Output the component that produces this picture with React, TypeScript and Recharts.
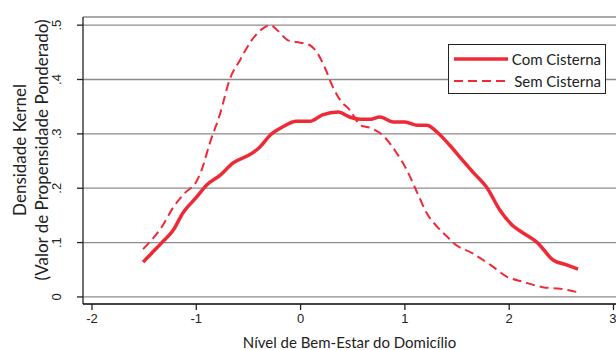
import React from 'react';
import { LineChart, Line, XAxis, YAxis, CartesianGrid, Label } from 'recharts';

// kernel density, weighted by propensity score
const comX = [-1.51, -1.43, -1.33, -1.22, -1.13, -1.0, -0.9, -0.77, -0.65, -0.46, -0.39, -0.29, -0.17, -0.04, 0.09, 0.21, 0.36, 0.47, 0.57, 0.67, 0.76, 0.89, 1.0, 1.12, 1.21, 1.31, 1.43, 1.55, 1.65, 1.79, 1.91, 2.03, 2.13, 2.27, 2.42, 2.55, 2.66];
const comY = [0.064, 0.08, 0.1, 0.123, 0.154, 0.183, 0.206, 0.224, 0.246, 0.265, 0.276, 0.298, 0.313, 0.323, 0.323, 0.335, 0.34, 0.331, 0.327, 0.327, 0.331, 0.322, 0.322, 0.316, 0.316, 0.303, 0.279, 0.252, 0.23, 0.2, 0.16, 0.132, 0.118, 0.1, 0.068, 0.059, 0.051];

const semX = [-1.51, -1.33, -1.22, -1.11, -1.0, -0.95, -0.87, -0.77, -0.68, -0.58, -0.47, -0.36, -0.29, -0.22, -0.12, -0.04, 0.09, 0.16, 0.23, 0.31, 0.38, 0.47, 0.52, 0.57, 0.67, 0.79, 0.92, 1.02, 1.12, 1.21, 1.31, 1.41, 1.46, 1.65, 1.82, 1.98, 2.13, 2.32, 2.49, 2.65];
const semY = [0.088, 0.129, 0.165, 0.191, 0.212, 0.233, 0.283, 0.338, 0.4, 0.436, 0.472, 0.494, 0.5, 0.49, 0.472, 0.469, 0.463, 0.449, 0.423, 0.386, 0.362, 0.344, 0.33, 0.316, 0.311, 0.297, 0.265, 0.233, 0.191, 0.154, 0.129, 0.11, 0.1, 0.08, 0.059, 0.037, 0.028, 0.018, 0.015, 0.009];

const xTicks = [-2, -1, 0, 1, 2, 3];
const yTicks = [0, 0.1, 0.2, 0.3, 0.4, 0.5];

const comData = comX.map((x, i) => ({ x, y: comY[i] }));
const semData = semX.map((x, i) => ({ x, y: semY[i] }));

const RED = '#ee2a36';
const INK = '#222';
const TITLE_FONT = 'Lato, sans-serif';
const TICK_FONT = '"Liberation Sans", Arial, sans-serif';

function YTick(props: any) {
  const { x, y, payload } = props;
  const v = payload.value;
  const txt = v === 0 ? '0' : '.' + Math.round(v * 10);
  return (
    <text
      x={x - 14}
      y={y}
      transform={`rotate(-90, ${x - 14}, ${y})`}
      textAnchor="middle"
      fontSize={13}
      fontFamily={TICK_FONT}
      fill={INK}
    >
      {txt}
    </text>
  );
}

function YTitle() {
  const cy = 150;
  return (
    <g fontFamily={TITLE_FONT} fontSize={17} fill={INK} textAnchor="middle">
      <text x={26} y={cy} transform={`rotate(-90, 26, ${cy})`}>Densidade Kernel</text>
      <text x={48} y={cy} transform={`rotate(-90, 48, ${cy})`}>(Valor de Propensidade Ponderado)</text>
    </g>
  );
}

function LegendBox() {
  const row = (label: string, dashed: boolean) => (
    <div style={{ display: 'flex', alignItems: 'center', height: 22 }}>
      <svg width={62} height={6} style={{ marginRight: 4 }}>
        <line
          x1={1}
          y1={3}
          x2={61}
          y2={3}
          stroke={RED}
          strokeWidth={dashed ? 2 : 3.5}
          strokeDasharray={dashed ? '9 5' : undefined}
        />
      </svg>
      <span style={{ fontFamily: TITLE_FONT, fontSize: 15, color: INK, whiteSpace: 'nowrap' }}>{label}</span>
    </div>
  );
  return (
    <div
      style={{
        position: 'absolute',
        left: 448,
        top: 44,
        border: `1px solid ${INK}`,
        background: '#fff',
        padding: '3px 4px',
        boxSizing: 'border-box',
        width: 158,
        height: 50,
      }}
    >
      {row('Com Cisterna', false)}
      {row('Sem Cisterna', true)}
    </div>
  );
}

export default function App() {
  return (
    <div style={{ position: 'absolute', left: 0, top: 0, width: 616, height: 350, background: '#fff' }}>
      <LineChart width={616} height={350} margin={{ top: 17, right: 0, bottom: 0, left: 0 }}>
        <CartesianGrid vertical={false} stroke="#8c8c8c" strokeWidth={1.3} />
        <XAxis
          dataKey="x"
          type="number"
          domain={[-2.086, 3.024]}
          ticks={xTicks}
          allowDuplicatedCategory={false}
          height={46}
          tickSize={6}
          stroke={INK}
          strokeWidth={1.3}
          tick={{ fontSize: 13, fontFamily: TICK_FONT, fill: INK }}
          tickMargin={4}
        >
          <Label
            value="Nível de Bem-Estar do Domicílio"
            position="insideBottom"
            offset={2}
            style={{ fontFamily: TITLE_FONT, fontSize: 15, fill: INK }}
          />
        </XAxis>
        <YAxis
          dataKey="y"
          type="number"
          domain={[-0.013, 0.515]}
          ticks={yTicks}
          width={83}
          tickSize={6}
          stroke={INK}
          strokeWidth={1.3}
          tick={<YTick />}
          label={{ content: () => <YTitle /> }}
        />
        <Line
          data={comData}
          dataKey="y"
          type="monotone"
          stroke={RED}
          strokeWidth={3.5}
          dot={false}
          isAnimationActive={false}
        />
        <Line
          data={semData}
          dataKey="y"
          type="monotone"
          stroke={RED}
          strokeWidth={2}
          strokeDasharray="9 5"
          dot={false}
          isAnimationActive={false}
        />
      </LineChart>
      <LegendBox />
    </div>
  );
}
